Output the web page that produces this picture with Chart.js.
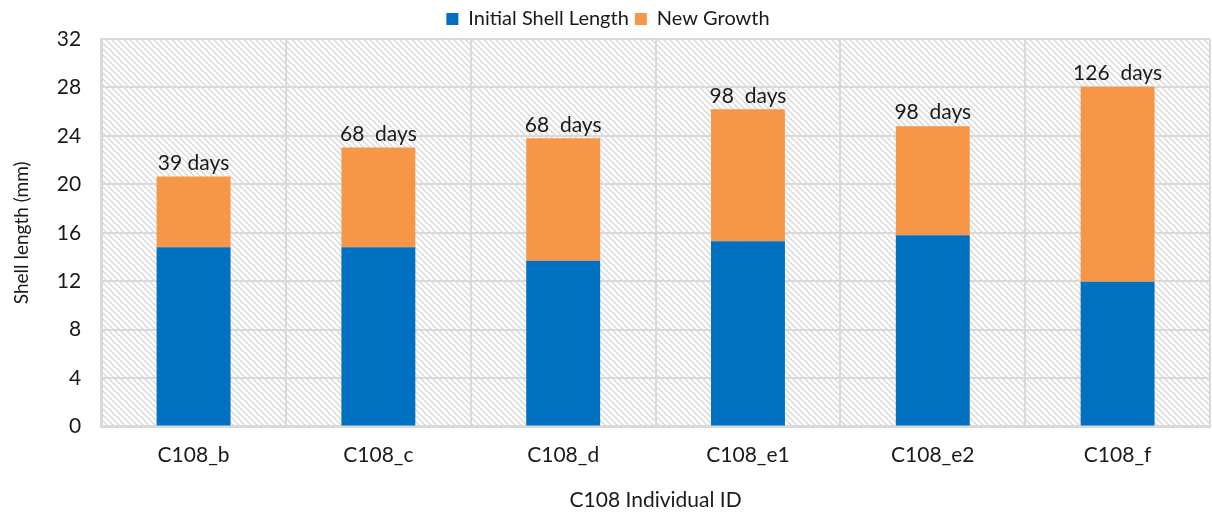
<!DOCTYPE html>
<html>
<head>
<meta charset="utf-8">
<script src="https://cdn.jsdelivr.net/npm/chart.js@4/dist/chart.umd.min.js"></script>
<style>
  html, body { margin: 0; padding: 0; background: #fff; }
  #wrap { width: 1212px; height: 513px; position: relative; }
</style>
</head>
<body>
<div id="wrap"><canvas id="shellChart"></canvas></div>
<script>
const categories = ["C108_b", "C108_c", "C108_d", "C108_e1", "C108_e2", "C108_f"];
const initialLength = [14.8, 14.8, 13.7, 15.3, 15.8, 11.95];
const newGrowth = [5.85, 8.25, 10.1, 10.9, 9.0, 16.1];
const dayLabels = ["39 days", "68  days", "68  days", "98  days", "98  days", "126  days"];
const yTicks = [0, 4, 8, 12, 16, 20, 24, 28, 32];

const COLORS = {
  blue: "#0070c0",
  orange: "#f79646",
  grid: "#d9d9d9",
  text: "#1a1a1a",
};
const FONT = "Lato, 'Open Sans', sans-serif";

function makeHatch() {
  const c = document.createElement("canvas");
  c.width = 6;
  c.height = 6;
  const g = c.getContext("2d");
  g.fillStyle = "#fff";
  g.fillRect(0, 0, 6, 6);
  g.strokeStyle = "#d8d8d8";
  g.lineWidth = 1.4;
  g.beginPath();
  g.moveTo(-1, -1); g.lineTo(7, 7);
  g.moveTo(-4, 2); g.lineTo(4, 10);
  g.moveTo(2, -4); g.lineTo(10, 4);
  g.stroke();
  return c;
}

const hatchBackground = {
  id: "hatchBackground",
  beforeDraw(chart) {
    const { ctx, chartArea: a } = chart;
    ctx.save();
    ctx.fillStyle = ctx.createPattern(makeHatch(), "repeat");
    ctx.fillRect(a.left, a.top, a.right - a.left, a.bottom - a.top);
    ctx.restore();
  },
};

const dayLabelPlugin = {
  id: "dayLabels",
  afterDatasetsDraw(chart) {
    const { ctx } = chart;
    const top = chart.getDatasetMeta(1);
    ctx.save();
    ctx.font = "21px " + FONT;
    ctx.fillStyle = COLORS.text;
    ctx.textAlign = "center";
    ctx.textBaseline = "bottom";
    top.data.forEach((bar, i) => {
      ctx.fillText(dayLabels[i], bar.x, bar.y - 3);
    });
    ctx.restore();
  },
};

new Chart(document.getElementById("shellChart"), {
  type: "bar",
  data: {
    labels: categories,
    datasets: [
      {
        label: "Initial Shell Length",
        data: initialLength,
        backgroundColor: COLORS.blue,
        barPercentage: 0.4,
        categoryPercentage: 1,
      },
      {
        label: "New Growth",
        data: newGrowth,
        backgroundColor: COLORS.orange,
        barPercentage: 0.4,
        categoryPercentage: 1,
      },
    ],
  },
  options: {
    responsive: true,
    maintainAspectRatio: false,
    animation: false,
    layout: { padding: { top: 3, right: 2, left: 6, bottom: 0 } },
    scales: {
      x: {
        stacked: true,
        grid: { color: COLORS.grid, lineWidth: 2, drawTicks: false },
        border: { color: COLORS.grid, width: 3 },
        ticks: { color: COLORS.text, font: { family: FONT, size: 21 }, padding: 16 },
        title: {
          display: true,
          text: "C108 Individual ID",
          color: COLORS.text,
          font: { family: FONT, size: 21 },
          padding: { top: 4, bottom: 0 },
        },
      },
      y: {
        stacked: true,
        min: 0,
        max: 32,
        afterBuildTicks(axis) {
          axis.ticks = yTicks.map((v) => ({ value: v }));
        },
        grid: { color: COLORS.grid, lineWidth: 2, drawTicks: false },
        border: { color: COLORS.grid, width: 3 },
        ticks: { color: COLORS.text, font: { family: FONT, size: 21 }, padding: 20 },
        title: {
          display: true,
          text: "Shell length (mm)",
          color: COLORS.text,
          font: { family: FONT, size: 19 },
          padding: { bottom: 4 },
        },
      },
    },
    plugins: {
      legend: {
        position: "top",
        labels: {
          boxWidth: 12,
          boxHeight: 12,
          color: COLORS.text,
          font: { family: FONT, size: 20 },
          padding: 6,
        },
      },
      tooltip: { enabled: false },
    },
  },
  plugins: [hatchBackground, dayLabelPlugin],
});
</script>
</body>
</html>
